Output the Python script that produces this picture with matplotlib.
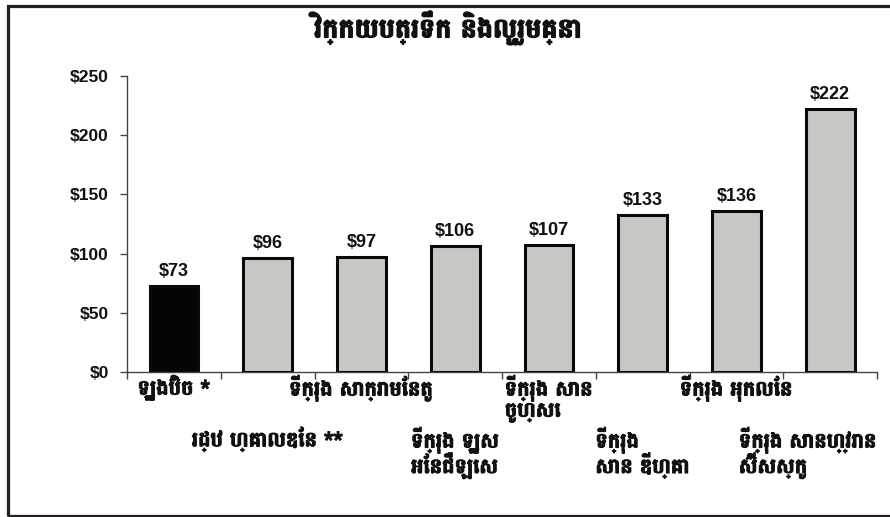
import matplotlib
matplotlib.use('Agg')
import matplotlib.pyplot as plt
from matplotlib import font_manager as fm
from matplotlib.ft2font import FT2Font
from matplotlib.patches import Rectangle
import matplotlib.patheffects as pe

# ---------------- data ----------------
title = "វិក្កយបត្រទឹក និងលូរួមគ្នា"
categories = [
    "ឡូងប៊ិច *",
    "រដ្ឋ ហ្គោលឌែន **",
    "ទីក្រុង សាក្រាមែនតូ",
    "ទីក្រុង ឡូស\nអែនជឺឡេស",
    "ទីក្រុង សាន\nចូហ្សេ",
    "ទីក្រុង\nសាន ឌីហ្គោ",
    "ទីក្រុង អុកលែន",
    "ទីក្រុង សានហ្វ្រាន\nស៊ីសស្កូ",
]
values = [73, 96, 97, 106, 107, 133, 136, 222]
yticks = [0, 50, 100, 150, 200, 250]
ytick_labels = ["$0", "$50", "$100", "$150", "$200", "$250"]


# ---------------- fonts ----------------
def find_khmer_fonts():
    paths = set()
    try:
        paths |= set(fm.findSystemFonts())
    except Exception:
        pass
    paths |= {f.fname for f in fm.fontManager.ttflist}
    found = []
    for p in sorted(paths):
        try:
            cm = FT2Font(p).get_charmap()
        except Exception:
            continue
        if 0x1780 in cm and 0x17D2 in cm:
            found.append(p)
    return found


khmer_paths = find_khmer_fonts()
khmer_family = None
if khmer_paths:
    bold = [p for p in khmer_paths if 'bold' in p.lower()]
    pick = bold[0] if bold else khmer_paths[0]
    try:
        fm.fontManager.addfont(pick)
        khmer_family = fm.FontProperties(fname=pick).get_name()
    except Exception:
        khmer_family = None

latin = ['Liberation Sans', 'DejaVu Sans']
kh_fam = ([khmer_family] if khmer_family else []) + latin
plt.rcParams['font.family'] = latin
plt.rcParams['text.parse_math'] = False

ink = '#111111'
embolden = [pe.withStroke(linewidth=0.75, foreground=ink)]

W, H = 890, 517
fig = plt.figure(figsize=(W / 100, H / 100), dpi=100)
fig.patch.set_facecolor('white')

left, right, bottom, top = 127, 877, 372, 76
ax = fig.add_axes([left / W, 1 - bottom / H, (right - left) / W, (bottom - top) / H])

colors = ['#050505'] + ['#c8c7c3'] * (len(values) - 1)
x = list(range(len(values)))
ax.bar(x, values, width=0.52, color=colors, edgecolor='#0a0a0a', linewidth=2.2, zorder=3)

for xi, v in zip(x, values):
    ax.annotate(f"${v}", xy=(xi, v), xytext=(0, 6), textcoords='offset pixels',
                ha='center', va='bottom', fontsize=13, fontweight='bold',
                family=latin, color=ink)

ax.set_xlim(-0.5, len(values) - 0.5)
ax.set_ylim(0, 250)
ax.set_yticks(yticks)
ax.set_yticklabels(ytick_labels, fontsize=12.5, fontweight='bold', color=ink)
ax.set_xticks([i - 0.5 for i in range(len(values) + 1)])
ax.set_xticklabels([])
ax.tick_params(axis='both', direction='out', length=5, width=1, color='#444444', pad=8)
for s in ['top', 'right']:
    ax.spines[s].set_visible(False)
for s in ['left', 'bottom']:
    ax.spines[s].set_color('#444444')
    ax.spines[s].set_linewidth(1)

n = len(categories)
for i, lab in enumerate(categories):
    off = 3 if i % 2 == 0 else 55
    if i == n - 1:
        # last label is kept inside the frame, right-aligned to the axis end
        xy, ha, dx = (n - 0.5, 0), 'right', 0
    else:
        xy, ha, dx = (i, 0), 'center', 0
    ax.annotate(lab, xy=xy, xycoords=('data', 'axes fraction'),
                xytext=(dx, -off), textcoords='offset pixels',
                ha=ha, va='top', multialignment='left',
                fontsize=15, fontweight='bold', family=kh_fam,
                linespacing=0.95, color=ink, annotation_clip=False,
                path_effects=embolden)

fig.text(448 / W, 1 - 28 / H, title, ha='center', va='center',
         fontsize=19.5, fontweight='bold', family=kh_fam, color=ink,
         path_effects=[pe.withStroke(linewidth=1.0, foreground=ink)])

# outer frame (open on the right side)
fig.add_artist(Rectangle((7.5 / W, 1.0 / H), 1.0, (516 - 6) / H,
                         transform=fig.transFigure, fill=False,
                         edgecolor='#231f20', linewidth=2.3, clip_on=False))

fig.savefig('out.png', dpi=100, facecolor='white')
